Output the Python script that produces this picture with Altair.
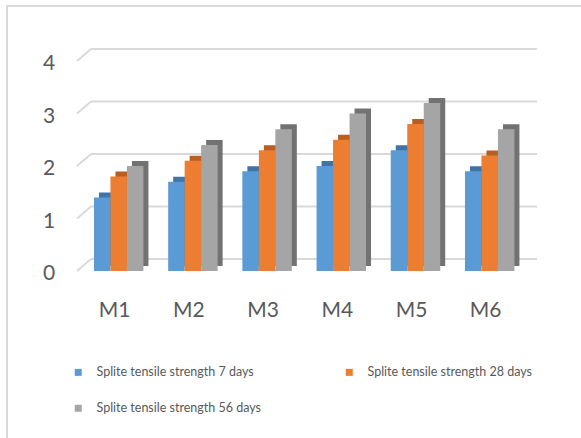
import altair as alt
import pandas as pd

categories = ["M1", "M2", "M3", "M4", "M5", "M6"]
series = ["Splite tensile strength 7 days", "Splite tensile strength 28 days", "Splite tensile strength 56 days"]
days7 = [1.4, 1.7, 1.9, 2.0, 2.3, 1.9]
days28 = [1.8, 2.1, 2.3, 2.5, 2.8, 2.2]
days56 = [2.0, 2.4, 2.7, 3.0, 3.2, 2.7]
y_ticks = [0, 1, 2, 3, 4]

face_colors = ["#5B9BD5", "#ED7D31", "#A5A5A5"]
dark_colors = ["#3F74A8", "#B95E20", "#727272"]

bw = 1 / 4.5          # bar width as share of a category (gap width 150%)
rows = []
for i, cat in enumerate(categories):
    for j, vals in enumerate([days7, days28, days56]):
        x0 = i + 0.75 * bw + j * bw
        rows.append({"cat": cat, "series": series[j], "order": j,
                     "x0": x0, "x1": x0 + bw, "v": vals[i]})
bars = pd.DataFrame(rows)
cats = pd.DataFrame({"cat": categories, "xc": [i + 0.5 for i in range(len(categories))]})
ticks = pd.DataFrame({"t": y_ticks})

X = alt.Scale(domain=[0, 6], range=[81.6, 526.8])
Y = alt.Scale(domain=[0, 4], range=[271, 61])
GRID = "#D9D9D9"
FONT = "Lato"

frame_top = alt.Chart(ticks.head(1)).mark_rule(color=GRID, strokeWidth=2).encode(
    x=alt.value(6), x2=alt.value(581), y=alt.value(6))
frame_left = alt.Chart(ticks.head(1)).mark_rule(color=GRID, strokeWidth=2).encode(
    x=alt.value(7), y=alt.value(6), y2=alt.value(438))

back_grid = alt.Chart(ticks).mark_rule(color=GRID, strokeWidth=2, yOffset=-12, y2Offset=-12).encode(
    y=alt.Y("t:Q", scale=Y, axis=None),
    x=alt.value(91), x2=alt.value(537))
diag = alt.Chart(ticks).mark_rule(color=GRID, strokeWidth=2, y2Offset=-12).encode(
    y=alt.Y("t:Q", scale=Y, axis=None), y2="t:Q",
    x=alt.value(77), x2=alt.value(91))
tick_labels = alt.Chart(ticks).mark_text(font=FONT, fontSize=21, color="#595959",
                                         align="center", baseline="middle", dy=3).encode(
    y=alt.Y("t:Q", scale=Y, axis=None), x=alt.value(49), text="t:Q")

shadow = alt.Chart(bars).mark_bar(xOffset=5, x2Offset=5, yOffset=-5, y2Offset=-5).encode(
    x=alt.X("x0:Q", scale=X, axis=None), x2="x1:Q",
    y=alt.Y("v:Q", scale=Y, axis=None), y2=alt.datum(0),
    color=alt.Color("series:N", scale=alt.Scale(domain=series, range=dark_colors), legend=None))

face = alt.Chart(bars).mark_bar().encode(
    x=alt.X("x0:Q", scale=X, axis=None), x2="x1:Q",
    y=alt.Y("v:Q", scale=Y, axis=None), y2=alt.datum(0),
    color=alt.Color("series:N", scale=alt.Scale(domain=series, range=face_colors),
                    legend=alt.Legend(title=None, orient="none", legendX=72, legendY=366,
                                      values=[series[0], series[2], series[1]],
                                      columns=2, columnPadding=82, rowPadding=23,
                                      symbolType="square", symbolSize=49, symbolStrokeWidth=0,
                                      labelFont=FONT, labelFontSize=12.5, labelColor="#595959",
                                      labelOffset=12, labelLimit=300, padding=0)))

cat_labels = alt.Chart(cats).mark_text(font=FONT, fontSize=21, color="#595959",
                                       align="center", baseline="middle", dx=-4).encode(
    x=alt.X("xc:Q", scale=X, axis=None), y=alt.value(311), text="cat:N")

chart = alt.layer(frame_top, frame_left, back_grid, diag, tick_labels, shadow, face, cat_labels).resolve_scale(
    color="independent").properties(
    width=581, height=438, autosize=alt.AutoSizeParams(type="none"), padding=0,
    background="white").configure_view(stroke=None)

chart.save("out.html", embed_options={"renderer": "svg", "actions": False})
